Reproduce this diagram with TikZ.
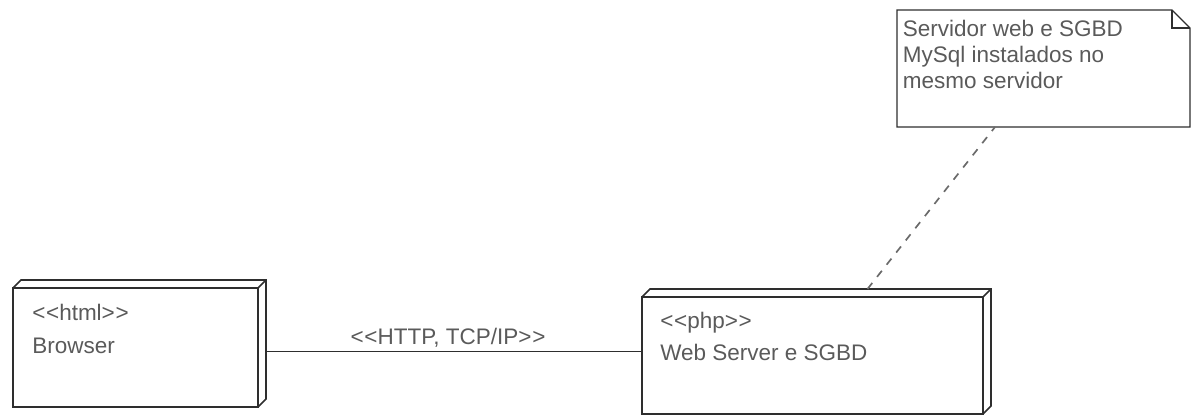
\documentclass[tikz,border=0pt]{standalone}
\usepackage{fontspec}
\setmainfont{Liberation Sans}
\usepackage{tikz}
\usetikzlibrary{positioning, calc}
\definecolor{EdgeGray}{HTML}{2E2E2E}
\definecolor{TextGray}{HTML}{5A5A5A}
\definecolor{DashGray}{HTML}{6A6A6A}
\newcommand{\stereo}[1]{<\kern0.5pt<#1>\kern0.5pt>}
\tikzset{
    umlnode/.style={rectangle, draw=EdgeGray, line width=1.2pt, outer sep=0pt, inner sep=0pt},
    face/.style={draw=EdgeGray, line width=1.2pt, line join=miter},
    notebox/.style={rectangle, outer sep=0pt, inner sep=0pt, minimum width=7.325cm, minimum height=2.925cm},
    notelines/.style={draw=EdgeGray, line width=0.8pt},
    txt/.style={anchor=north west, inner sep=0pt, align=left, text=TextGray, font=\fontsize{16}{18.4}\selectfont},
    link/.style={draw=EdgeGray, line width=0.8pt},
    lbl/.style={text=TextGray, font=\fontsize{16}{18.4}\selectfont, inner sep=2pt},
    anchorline/.style={draw=DashGray, line width=1.2pt, dash pattern=on 5.5pt off 5.5pt},
}

\begin{document}
\begin{tikzpicture}
\useasboundingbox (0,0) rectangle (29.8,-10.4);
% Browser
\node[umlnode, minimum width=6.125cm, minimum height=2.975cm] (browser) at (3.3875,-8.6875) {};
\node[txt] (browsertxt) at ($(browser.north west)+(0.475,-0.4)$) {\stereo{html}\\[5pt]Browser};
% Web server
\node[umlnode, minimum width=8.525cm, minimum height=2.925cm, right=9.6cm of browser, yshift=-0.2cm] (web) {};
\node[txt] (webtxt) at ($(web.north west)+(0.45,-0.38)$) {\stereo{php}\\[4pt]Web Server e SGBD};
% 3D faces
\foreach \n in {browser, web} {
    \draw[face] (\n.north west) -- ++(0.2,0.2) -| ($(\n.south east)+(0.2,0.2)$) -- (\n.south east);
    \draw[face] (\n.north east) -- ++(0.2,0.2);
}

% Note
\node[notebox] (nota) at (26.0875,-1.7125) {};
\draw[notelines] (nota.north west) -- ($(nota.north east)+(-0.45,0)$) coordinate (fold)
    -- ($(nota.north east)+(0,-0.45)$) coordinate (foldend) -- (nota.south east) -- (nota.south west) -- cycle;
\draw[notelines] (fold) |- (foldend);
\node[txt] (notatxt) at ($(nota.north west)+(0.14,-0.26)$) {Servidor web e SGBD\\MySql instalados no\\mesmo servidor};

% communication path
\draw[link] ($(browser.east)+(0.2,-0.09)$) coordinate (linkstart) -- (linkstart -| web.west)
    node[midway, lbl, above, xshift=-0.15cm] {\stereo{HTTP, TCP/IP}};
% note anchor
\draw[anchorline] ($(web.north)+(1.375,0.2)$) -- ($(nota.south west)+(2.45,0)$);

\end{tikzpicture}
\end{document}
